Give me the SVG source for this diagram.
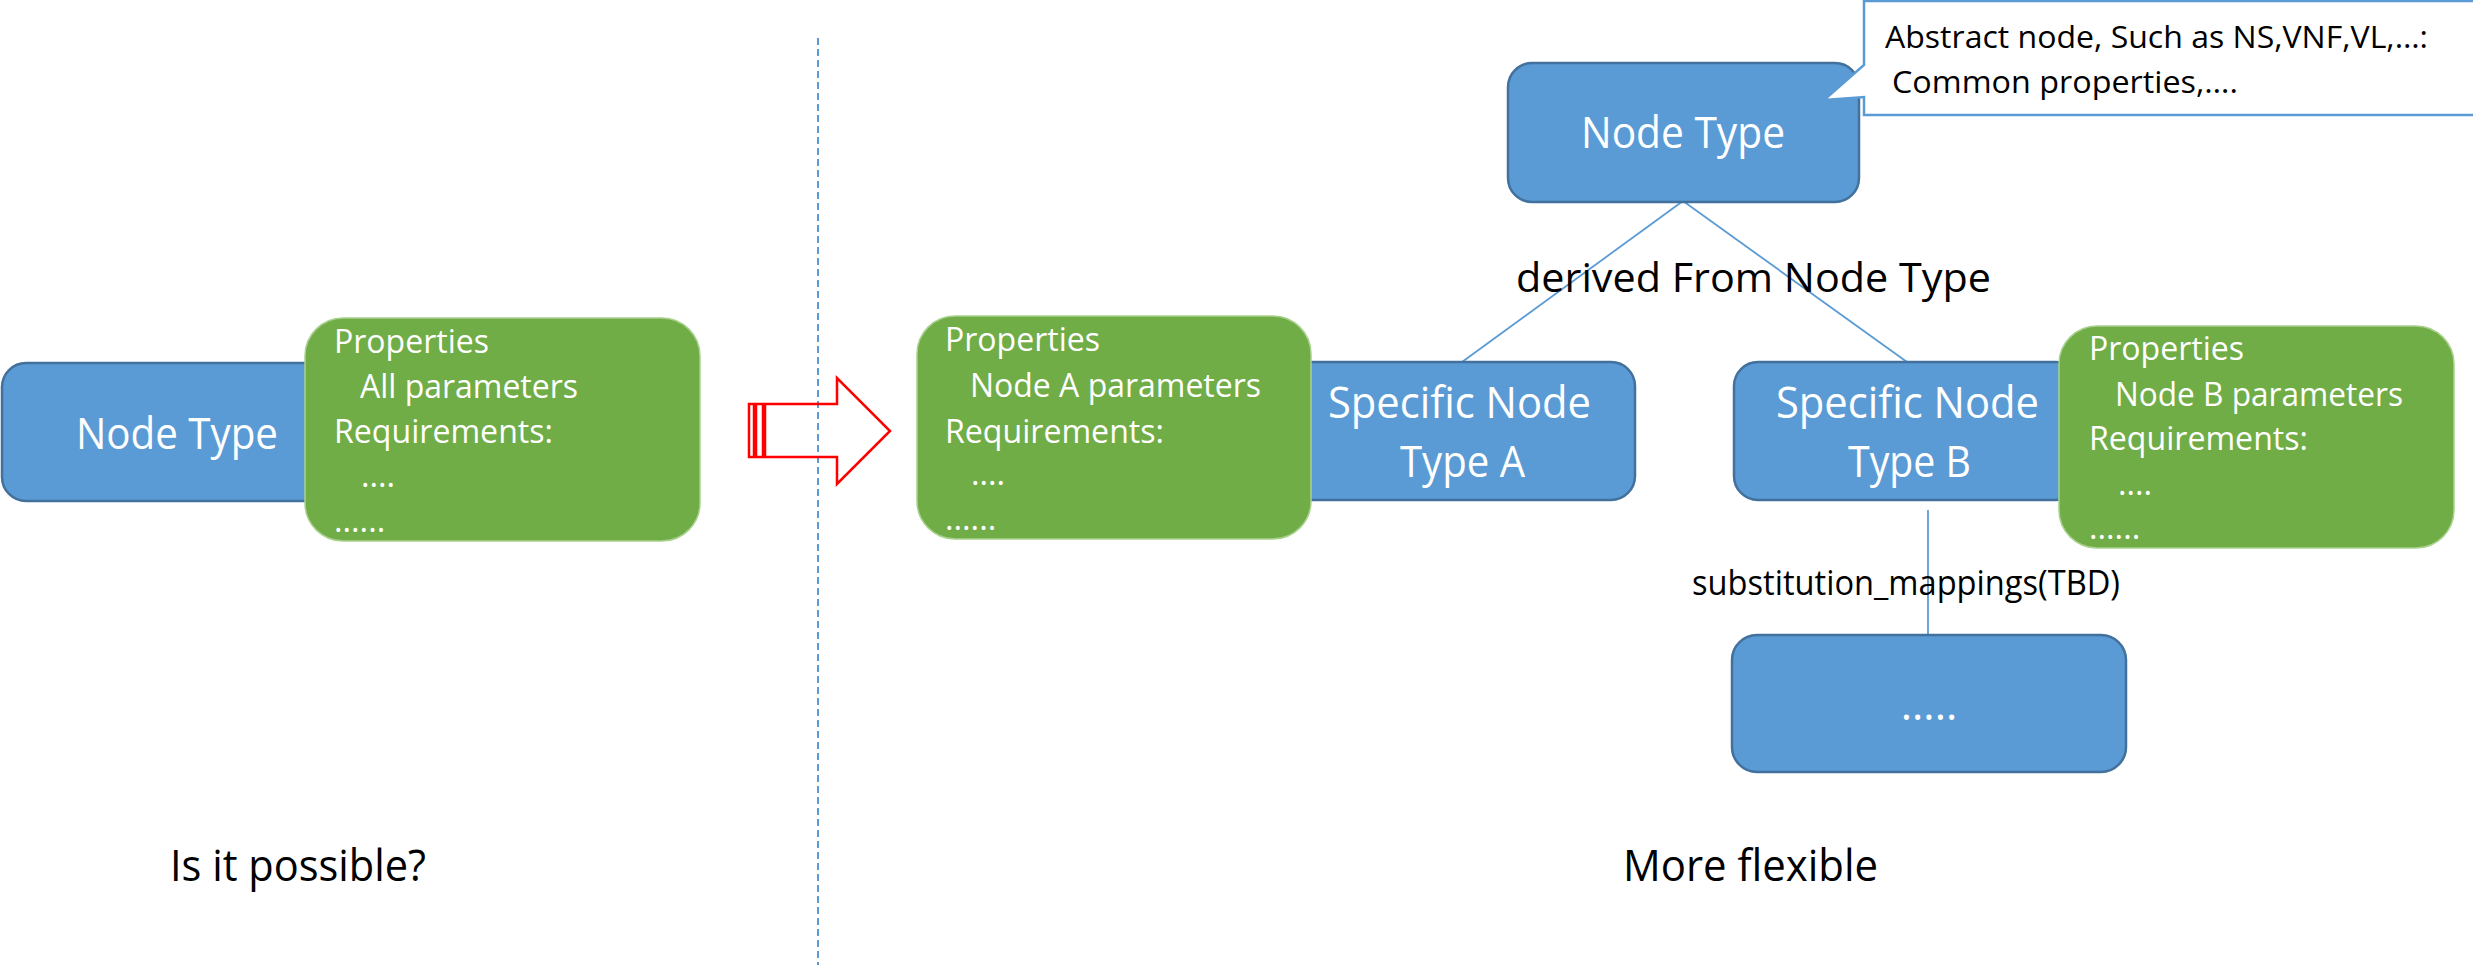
<svg xmlns="http://www.w3.org/2000/svg" width="2473" height="965" viewBox="0 0 2473 965">
<style>
.blue{fill:#5B9BD5;stroke:#41719C;stroke-width:2.5}
.green{fill:#70AD47;stroke:#A9D18E;stroke-width:1.5}
.conn{stroke:#5B9BD5;stroke-width:1.8;fill:none}
text{font-family:"Open Sans","Noto Sans","Liberation Sans",sans-serif}
.big{fill:#fff;font-size:43px}
.gt{fill:#fff;font-size:32.5px}
.blk{fill:#000}
</style>
<rect width="2473" height="965" fill="#fff"/>
<g id="connectors">
<line x1="818" y1="38" x2="818" y2="965" stroke="#5B9BD5" stroke-width="2" stroke-dasharray="7 4"/>
<line class="conn" x1="1683" y1="201" x2="1462" y2="362"/>
<line class="conn" x1="1683" y1="201" x2="1907" y2="362"/>
<line class="conn" x1="1928" y1="510" x2="1928" y2="635"/>
</g>
<g id="arrow" fill="none" stroke="#FF0000" stroke-width="2.5" stroke-linejoin="miter">
<rect x="749" y="404" width="5" height="53"/>
<rect x="756" y="404" width="7" height="53"/>
<path d="M765,404 H837 V378 L890,431 L837,484 V457 H765 Z"/>
</g>
<g id="node-left">
<rect class="blue" x="2" y="363" width="350" height="138" rx="24"/>
<text class="big" x="76" y="449" textLength="202" lengthAdjust="spacingAndGlyphs">Node Type</text>
</g>
<g id="props-left">
<rect class="green" x="305" y="318" width="395" height="223" rx="38"/>
<text class="gt" x="334" y="353" textLength="155" lengthAdjust="spacingAndGlyphs">Properties</text>
<text class="gt" x="360" y="398" textLength="218" lengthAdjust="spacingAndGlyphs">All parameters</text>
<text class="gt" x="334" y="443" textLength="219" lengthAdjust="spacingAndGlyphs">Requirements:</text>
<text class="gt" x="361" y="487">....</text>
<text class="gt" x="334" y="532">......</text>
</g>
<g id="node-type-top">
<rect class="blue" x="1508" y="63" width="351" height="139" rx="24"/>
<text class="big" x="1581" y="148" textLength="204" lengthAdjust="spacingAndGlyphs">Node Type</text>
</g>
<g id="callout">
<path d="M1864,1 H2480 V115 H1864 V97 L1824,100 L1864,65 Z" fill="#fff" stroke="#5B9BD5" stroke-width="2.5"/>
<text class="blk" x="1885" y="48" font-size="31.5" textLength="543" lengthAdjust="spacingAndGlyphs">Abstract node, Such as NS,VNF,VL,…:</text>
<text class="blk" x="1892" y="93" font-size="31.5" textLength="346" lengthAdjust="spacingAndGlyphs">Common properties,….</text>
</g>
<text class="blk" x="1516" y="292" font-size="41" textLength="475" lengthAdjust="spacingAndGlyphs">derived From Node Type</text>
<g id="node-a">
<rect class="blue" x="1285" y="362" width="350" height="138" rx="24"/>
<text class="big" x="1328" y="418" textLength="263" lengthAdjust="spacingAndGlyphs">Specific Node</text>
<text class="big" x="1400" y="477" textLength="125" lengthAdjust="spacingAndGlyphs">Type A</text>
</g>
<g id="props-a">
<rect class="green" x="917" y="316" width="394" height="223" rx="38"/>
<text class="gt" x="945" y="351" textLength="155" lengthAdjust="spacingAndGlyphs">Properties</text>
<text class="gt" x="970" y="397" textLength="291" lengthAdjust="spacingAndGlyphs">Node A parameters</text>
<text class="gt" x="945" y="443" textLength="219" lengthAdjust="spacingAndGlyphs">Requirements:</text>
<text class="gt" x="971" y="485">....</text>
<text class="gt" x="945" y="530">......</text>
</g>
<g id="node-b">
<rect class="blue" x="1734" y="362" width="346" height="138" rx="24"/>
<text class="big" x="1776" y="418" textLength="263" lengthAdjust="spacingAndGlyphs">Specific Node</text>
<text class="big" x="1848" y="477" textLength="123" lengthAdjust="spacingAndGlyphs">Type B</text>
</g>
<g id="props-b">
<rect class="green" x="2059" y="326" width="395" height="222" rx="38"/>
<text class="gt" x="2089" y="360" textLength="155" lengthAdjust="spacingAndGlyphs">Properties</text>
<text class="gt" x="2115" y="406" textLength="288" lengthAdjust="spacingAndGlyphs">Node B parameters</text>
<text class="gt" x="2089" y="450" textLength="219" lengthAdjust="spacingAndGlyphs">Requirements:</text>
<text class="gt" x="2118" y="495">....</text>
<text class="gt" x="2089" y="539">......</text>
</g>
<text class="blk" x="1692" y="595" font-size="35.5" textLength="428" lengthAdjust="spacingAndGlyphs">substitution_mappings(TBD)</text>
<g id="node-sub">
<rect class="blue" x="1732" y="635" width="394" height="137" rx="25"/>
<text class="big" x="1929" y="720" text-anchor="middle">.....</text>
</g>
<text class="blk" x="170" y="881" font-size="44" textLength="256" lengthAdjust="spacingAndGlyphs">Is it possible?</text>
<text class="blk" x="1623" y="881" font-size="44" textLength="255" lengthAdjust="spacingAndGlyphs">More flexible</text>
</svg>
